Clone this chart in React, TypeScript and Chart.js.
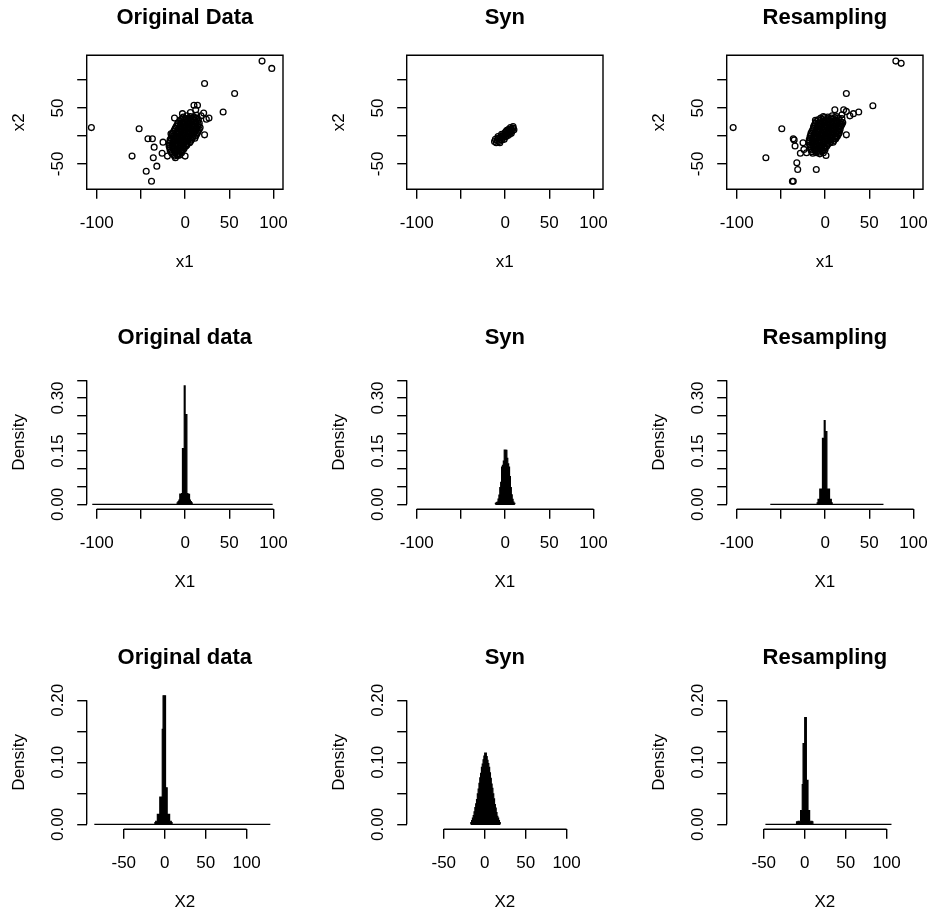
import React, { useEffect, useRef } from 'react';
import { Chart, registerables } from 'chart.js';

Chart.register(...registerables);

// ---------------- tick values and labels ----------------
const scatterXTicks = [-100, -50, 0, 50, 100];
const scatterXLabels = ['-100', '', '0', '50', '100'];
const scatterYTicks = [-50, 0, 50, 100];
const scatterYLabels = ['-50', '', '50', ''];

const histX1Ticks = [-100, -50, 0, 50, 100];
const histX1Labels = ['-100', '', '0', '50', '100'];
const histX1YTicks = [0, 0.05, 0.1, 0.15, 0.2, 0.25, 0.3, 0.35];
const histX1YLabels = ['0.00', '', '', '0.15', '', '', '0.30', ''];

const histX2Ticks = [-50, 0, 50, 100];
const histX2Labels = ['-50', '0', '50', '100'];
const histX2YTicks = [0, 0.05, 0.1, 0.15, 0.2];
const histX2YLabels = ['0.00', '', '0.10', '', '0.20'];

// axis limits (R "usr" ranges)
const scatterXLim = [-111.3, 110.7];
const scatterYLim = [-95.4, 144.4];
const histX1XLim = [-111.3, 110.7];
const histX1YLim = [-0.014, 0.364];
const histX2XLim = [-95.3, 144.5];
const histX2YLim = [-0.008, 0.208];

// ---------------- scatter data (x1, x2) ----------------
const originalPoints: [number, number][] = [
  // outlying points
  [87, 134], [98, 121], [22, 94], [56, 76], [43, 43], [-106, 15], [-52, 13], [-60, -36],
  [-42, -5], [-37, -5], [-35, -20], [-36, -39], [-32, -54], [-44, -63], [-38, -81],
  [-25, -11], [-26, -31], [-20, -36], [-11, -39], [-4, -27], [0, -36], [22, 2], [27, 32],
  [21, 41], [10, 55], [14, 55], [12, 47], [-12, 32], [18, 36], [24, 30], [6, 42], [-3, 40],
  // dense core
  [-2, 34], [2, 36], [6, 35], [10, 34], [13, 37],
  [-3, 32], [1, 31], [5, 32], [9, 31], [13, 32],
  [-5, 29], [-1, 28], [3, 30], [7, 29], [11, 28], [15, 30],
  [-6, 26], [-2, 25], [2, 26], [6, 27], [10, 25], [14, 26],
  [-8, 23], [-4, 22], [0, 24], [4, 23], [8, 22], [12, 24], [16, 23],
  [-9, 20], [-5, 19], [-1, 21], [3, 20], [7, 19], [11, 21], [15, 20],
  [-10, 17], [-6, 16], [-2, 18], [2, 17], [6, 16], [10, 18], [14, 17], [17, 15],
  [-11, 14], [-7, 13], [-3, 15], [1, 14], [5, 13], [9, 15], [13, 14], [16, 12],
  [-12, 11], [-8, 10], [-4, 12], [0, 11], [4, 10], [8, 12], [12, 11], [15, 9],
  [-13, 8], [-9, 7], [-5, 9], [-1, 8], [3, 7], [7, 9], [11, 8], [14, 6],
  [-16, 4], [-14, 5], [-10, 4], [-6, 6], [-2, 5], [2, 4], [6, 6], [10, 5], [13, 3],
  [-15, 2], [-12, 1], [-8, 3], [-4, 2], [0, 1], [4, 3], [8, 2], [12, 0],
  [-15, -1], [-11, -2], [-7, 0], [-3, -1], [1, -2], [5, 0], [9, -1], [11, -4],
  [-16, -4], [-12, -5], [-8, -3], [-4, -4], [0, -5], [4, -3], [8, -4],
  [-17, -7], [-13, -8], [-9, -6], [-5, -7], [-1, -8], [3, -6], [7, -7],
  [-17, -10], [-13, -11], [-9, -9], [-5, -10], [-1, -11], [3, -9], [6, -10],
  [-18, -13], [-14, -12], [-10, -14], [-6, -13], [-2, -12], [2, -14], [5, -12],
  [-18, -16], [-14, -17], [-10, -15], [-6, -16], [-2, -17], [2, -16],
  [-18, -19], [-14, -20], [-10, -18], [-6, -19], [-2, -20], [1, -18],
  [-17, -22], [-13, -21], [-9, -23], [-5, -22], [-1, -22],
  [-17, -25], [-13, -24], [-9, -26], [-5, -25], [-2, -24],
  [-16, -28], [-12, -27], [-8, -29], [-4, -28],
  [-15, -31], [-11, -30], [-7, -32], [-4, -30],
  [-13, -33], [-9, -33], [-6, -34],
  [-12, -36], [-8, -35],
];

const synPoints: [number, number][] = [
  [-12, -10], [-10, -12], [-11, -6], [-9, -8], [-8, -4], [-7, -10], [-6, -6], [-5, -2],
  [-4, -7], [-3, 0], [-3, -4], [-2, 3], [-1, -2], [0, 2], [0, 6], [1, -1], [2, 4], [3, 8],
  [3, 1], [4, 5], [5, 10], [5, 3], [6, 7], [7, 12], [7, 5], [8, 9], [9, 14], [9, 17],
  [10, 11], [6, 15], [4, 12], [-1, -6], [-6, -12], [2, 10], [-8, -1], [1, 8], [-4, 3],
];

const resamplingPoints: [number, number][] = [
  // outlying points
  [80, 134], [86, 130], [24, 76], [54, 54], [38, 43], [-104, 15], [-49, 13], [-67, -39],
  [-36, -5], [-35, -7], [-34, -18], [-32, -48], [-31, -60], [-37, -81], [-36, -81],
  [-10, -60], [1, -35], [-25, -12], [-28, -31], [-21, -30], [24, 2], [21, 47], [11, 47],
  [19, 38], [28, 36], [-11, 28], [32, 40], [24, 44], [-24, -24],
  // dense core
  [-2, 35], [3, 34], [8, 36], [13, 35],
  [-5, 32], [-1, 33], [3, 31], [7, 32], [11, 33], [15, 32],
  [-8, 29], [-4, 30], [0, 28], [4, 29], [8, 30], [12, 28], [16, 29], [19, 31],
  [-10, 26], [-6, 25], [-2, 27], [2, 26], [6, 25], [10, 27], [14, 26], [18, 25],
  [-11, 23], [-7, 22], [-3, 24], [1, 23], [5, 22], [9, 24], [13, 23], [17, 22], [20, 24],
  [-12, 20], [-8, 19], [-4, 21], [0, 20], [4, 19], [8, 21], [12, 20], [16, 19], [19, 21],
  [-13, 17], [-9, 16], [-5, 18], [-1, 17], [3, 16], [7, 18], [11, 17], [15, 16], [18, 18],
  [-13, 14], [-8, 13], [-4, 15], [0, 14], [4, 13], [8, 15], [12, 14], [16, 13],
  [-14, 11], [-10, 10], [-6, 12], [-2, 11], [2, 10], [6, 12], [10, 11], [14, 10], [17, 12],
  [-15, 8], [-11, 7], [-7, 9], [-3, 8], [1, 7], [5, 9], [9, 8], [13, 7], [16, 9],
  [-16, 5], [-12, 4], [-8, 6], [-4, 5], [0, 4], [4, 6], [8, 5], [12, 4], [16, 6],
  [-16, 2], [-12, 1], [-8, 3], [-4, 2], [0, 1], [4, 3], [8, 2], [12, 1], [15, 3],
  [-17, -1], [-13, -2], [-9, 0], [-5, -1], [-1, -2], [3, 0], [7, -1], [11, -2], [14, 0],
  [-17, -4], [-13, -5], [-9, -3], [-5, -4], [-1, -5], [3, -3], [7, -4], [11, -5], [13, -2],
  [-18, -7], [-14, -8], [-10, -6], [-6, -7], [-2, -8], [2, -6], [6, -7], [10, -8], [12, -5],
  [-18, -10], [-14, -11], [-10, -9], [-6, -10], [-2, -11], [2, -9], [6, -10], [9, -11],
  [-18, -13], [-14, -12], [-10, -14], [-6, -13], [-2, -12], [2, -14], [6, -12],
  [-17, -16], [-13, -17], [-9, -15], [-5, -16], [-1, -17], [3, -15],
  [-17, -19], [-13, -20], [-9, -18], [-5, -19], [-1, -20], [2, -18],
  [-16, -22], [-12, -21], [-8, -23], [-4, -22], [0, -21],
  [-16, -25], [-12, -24], [-8, -26], [-4, -25], [0, -24],
  [-15, -28], [-11, -27], [-7, -29], [-3, -27],
  [-14, -31], [-10, -30], [-6, -32], [-2, -30],
];

// ---------------- histogram data (bin width 1) ----------------
// span: range of all breaks (empty bins show as the zero line); firstBin: left edge of first listed bin
const origX1Span = [-105, 99];
const origX1FirstBin = -9;
const origX1Density = [0.004, 0.008, 0.012, 0.029, 0.029, 0.03, 0.157, 0.157, 0.334, 0.253, 0.253,
  0.03, 0.029, 0.028, 0.012, 0.008, 0.004];

const synX1Span = [-11, 11];
const synX1FirstBin = -11;
const synX1Density = [0.003, 0.005, 0.006, 0.015, 0.026, 0.047, 0.062, 0.105, 0.11, 0.122, 0.153,
  0.153, 0.152, 0.13, 0.114, 0.105, 0.078, 0.047, 0.027, 0.014, 0.006, 0.003];

const resX1Span = [-62, 66];
const resX1FirstBin = -9;
const resX1Density = [0.004, 0.014, 0.014, 0.043, 0.043, 0.043, 0.186, 0.186, 0.236, 0.205, 0.205,
  0.043, 0.043, 0.043, 0.014, 0.014, 0.004];

const origX2Span = [-86, 129];
const origX2FirstBin = -12;
const origX2Density = [0.003, 0.005, 0.005, 0.016, 0.016, 0.016, 0.044, 0.044, 0.044, 0.153, 0.208,
  0.208, 0.208, 0.059, 0.059, 0.016, 0.016, 0.016, 0.005, 0.005, 0.003];

const synX2Span = [-17, 19];
const synX2FirstBin = -17;
const synX2Density = [0.003, 0.006, 0.01, 0.014, 0.02, 0.027, 0.033, 0.04, 0.049, 0.057, 0.066,
  0.075, 0.082, 0.092, 0.097, 0.104, 0.11, 0.115, 0.115, 0.109, 0.103, 0.098, 0.092, 0.083,
  0.074, 0.065, 0.058, 0.049, 0.041, 0.032, 0.026, 0.019, 0.013, 0.01, 0.006, 0.003];

const resX2Span = [-48, 106];
const resX2FirstBin = -10;
const resX2Density = [0.004, 0.004, 0.005, 0.005, 0.005, 0.022, 0.022, 0.064, 0.13, 0.13, 0.172,
  0.172, 0.071, 0.071, 0.022, 0.022, 0.005, 0.005, 0.005, 0.004];

// ---------------- styling / layout ----------------
const FONT = '"Liberation Sans", Arial, Helvetica, sans-serif';
const CELL = 320;
const TICK_LEN = 9.5;
const LINE_W = 1.4;
const AXIS_FONT_SIZE = 17;
const PLOT_LEFT = 86.7;
const PLOT_RIGHT = 283;
const PLOT_TOP = 55.3;
const PLOT_BOTTOM = 189.3;
const Y_LABEL_CENTER = 58.5;
const X_LABEL_CENTER = 223;
const X_TITLE_CENTER = 262.5;

const rFrame = {
  id: 'rFrame',
  afterDraw(chart: any, _args: any, opts: any) {
    const { ctx, chartArea: a, scales } = chart;
    ctx.save();
    ctx.strokeStyle = '#000';
    ctx.lineWidth = LINE_W;
    ctx.beginPath();
    if (opts.box) {
      ctx.rect(a.left, a.top, a.right - a.left, a.bottom - a.top);
    } else {
      const xs = scales.x;
      const ys = scales.y;
      const xt = xs.ticks;
      const yt = ys.ticks;
      ctx.moveTo(xs.getPixelForValue(xt[0].value), a.bottom);
      ctx.lineTo(xs.getPixelForValue(xt[xt.length - 1].value), a.bottom);
      ctx.moveTo(a.left, ys.getPixelForValue(yt[0].value));
      ctx.lineTo(a.left, ys.getPixelForValue(yt[yt.length - 1].value));
    }
    ctx.stroke();
    ctx.restore();
  },
};

function widest(labels: string[], font: string) {
  const c = document.createElement('canvas').getContext('2d')!;
  c.font = font;
  let w = 0;
  labels.forEach((l) => { if (l) w = Math.max(w, c.measureText(l).width); });
  return w;
}

function scatterSet(points: [number, number][]) {
  return {
    data: points.map(([x, y]) => ({ x, y })),
    pointStyle: 'circle',
    pointRadius: 2.9,
    pointBorderWidth: 1.3,
    pointBorderColor: '#000',
    pointBackgroundColor: 'rgba(0,0,0,0)',
    showLine: false,
  };
}

function histSets(span: number[], firstBin: number, dens: number[]) {
  const pts = [{ x: firstBin, y: 0 }];
  dens.forEach((d, i) => pts.push({ x: firstBin + i, y: d }));
  pts.push({ x: firstBin + dens.length, y: 0 });
  return [
    {
      data: [{ x: span[0], y: 0 }, { x: span[1], y: 0 }],
      borderColor: '#000',
      borderWidth: LINE_W,
      pointRadius: 0,
      fill: false,
    },
    {
      data: pts,
      stepped: 'before',
      borderColor: '#000',
      borderWidth: 1.2,
      backgroundColor: '#000',
      pointRadius: 0,
      fill: 'origin',
    },
  ];
}

type PanelDef = {
  title: string; xTitle: string; yTitle: string;
  xTicks: number[]; xLabels: string[]; yTicks: number[]; yLabels: string[];
  xLim: number[]; yLim: number[]; box: boolean; datasets: any[];
};

const panels: PanelDef[] = [
  { title: 'Original Data', xTitle: 'x1', yTitle: 'x2', xTicks: scatterXTicks, xLabels: scatterXLabels,
    yTicks: scatterYTicks, yLabels: scatterYLabels, xLim: scatterXLim, yLim: scatterYLim, box: true,
    datasets: [scatterSet(originalPoints)] },
  { title: 'Syn', xTitle: 'x1', yTitle: 'x2', xTicks: scatterXTicks, xLabels: scatterXLabels,
    yTicks: scatterYTicks, yLabels: scatterYLabels, xLim: scatterXLim, yLim: scatterYLim, box: true,
    datasets: [scatterSet(synPoints)] },
  { title: 'Resampling', xTitle: 'x1', yTitle: 'x2', xTicks: scatterXTicks, xLabels: scatterXLabels,
    yTicks: scatterYTicks, yLabels: scatterYLabels, xLim: scatterXLim, yLim: scatterYLim, box: true,
    datasets: [scatterSet(resamplingPoints)] },
  { title: 'Original data', xTitle: 'X1', yTitle: 'Density', xTicks: histX1Ticks, xLabels: histX1Labels,
    yTicks: histX1YTicks, yLabels: histX1YLabels, xLim: histX1XLim, yLim: histX1YLim, box: false,
    datasets: histSets(origX1Span, origX1FirstBin, origX1Density) },
  { title: 'Syn', xTitle: 'X1', yTitle: 'Density', xTicks: histX1Ticks, xLabels: histX1Labels,
    yTicks: histX1YTicks, yLabels: histX1YLabels, xLim: histX1XLim, yLim: histX1YLim, box: false,
    datasets: histSets(synX1Span, synX1FirstBin, synX1Density) },
  { title: 'Resampling', xTitle: 'X1', yTitle: 'Density', xTicks: histX1Ticks, xLabels: histX1Labels,
    yTicks: histX1YTicks, yLabels: histX1YLabels, xLim: histX1XLim, yLim: histX1YLim, box: false,
    datasets: histSets(resX1Span, resX1FirstBin, resX1Density) },
  { title: 'Original data', xTitle: 'X2', yTitle: 'Density', xTicks: histX2Ticks, xLabels: histX2Labels,
    yTicks: histX2YTicks, yLabels: histX2YLabels, xLim: histX2XLim, yLim: histX2YLim, box: false,
    datasets: histSets(origX2Span, origX2FirstBin, origX2Density) },
  { title: 'Syn', xTitle: 'X2', yTitle: 'Density', xTicks: histX2Ticks, xLabels: histX2Labels,
    yTicks: histX2YTicks, yLabels: histX2YLabels, xLim: histX2XLim, yLim: histX2YLim, box: false,
    datasets: histSets(synX2Span, synX2FirstBin, synX2Density) },
  { title: 'Resampling', xTitle: 'X2', yTitle: 'Density', xTicks: histX2Ticks, xLabels: histX2Labels,
    yTicks: histX2YTicks, yLabels: histX2YLabels, xLim: histX2XLim, yLim: histX2YLim, box: false,
    datasets: histSets(resX2Span, resX2FirstBin, resX2Density) },
];

function buildConfig(d: PanelDef): any {
  const axisFont = { family: FONT, size: AXIS_FONT_SIZE, lineHeight: 1.2 };
  const lh = AXIS_FONT_SIZE * 1.2;
  const yW = widest(d.yLabels, `${AXIS_FONT_SIZE}px ${FONT}`);
  const yPad = PLOT_LEFT - Y_LABEL_CENTER - TICK_LEN - yW / 2;
  const grid = { display: true, drawOnChartArea: false, drawTicks: true, tickLength: TICK_LEN, color: '#000', lineWidth: LINE_W };
  return {
    type: d.box ? 'scatter' : 'line',
    data: { datasets: d.datasets },
    plugins: [rFrame],
    options: {
      responsive: false,
      animation: false,
      devicePixelRatio: 1,
      events: [],
      layout: { padding: { left: 0, right: CELL - PLOT_RIGHT, top: 0, bottom: 0 } },
      plugins: {
        legend: { display: false },
        tooltip: { enabled: false },
        title: {
          display: true, text: d.title, fullSize: false, color: '#000',
          font: { family: FONT, size: 22, weight: 'bold', lineHeight: 1.2 },
          padding: { top: 4.3, bottom: PLOT_TOP - 4.3 - 22 * 1.2 },
        },
        rFrame: { box: d.box },
      },
      scales: {
        x: {
          type: 'linear', position: 'bottom', bounds: 'data', min: d.xLim[0], max: d.xLim[1],
          afterBuildTicks: (s: any) => { s.ticks = d.xTicks.map((v) => ({ value: v })); },
          afterFit: (s: any) => { s.height = CELL - PLOT_BOTTOM; },
          grid, border: { display: false },
          ticks: {
            autoSkip: false, maxRotation: 0, minRotation: 0, padding: X_LABEL_CENTER - PLOT_BOTTOM - TICK_LEN - lh / 2,
            color: '#000', font: axisFont, callback: (_v: any, i: number) => d.xLabels[i],
          },
          title: { display: true, text: d.xTitle, color: '#000', font: axisFont, padding: { top: 0, bottom: CELL - X_TITLE_CENTER - lh / 2 } },
        },
        y: {
          type: 'linear', position: 'left', bounds: 'data', min: d.yLim[0], max: d.yLim[1],
          afterBuildTicks: (s: any) => { s.ticks = d.yTicks.map((v) => ({ value: v })); },
          afterFit: (s: any) => { s.width = PLOT_LEFT; },
          grid, border: { display: false },
          ticks: {
            autoSkip: false, minRotation: 90, maxRotation: 90, crossAlign: 'center', padding: yPad,
            color: '#000', font: axisFont, callback: (_v: any, i: number) => d.yLabels[i],
          },
          title: { display: true, text: d.yTitle, color: '#000', font: axisFont, padding: { top: 19.5 - lh / 2, bottom: 0 } },
        },
      },
    },
  };
}

function Panel({ def, left, top }: { def: PanelDef; left: number; top: number }) {
  const ref = useRef<HTMLCanvasElement>(null);
  useEffect(() => {
    const chart = new Chart(ref.current as HTMLCanvasElement, buildConfig(def));
    return () => chart.destroy();
  }, [def]);
  return (
    <canvas ref={ref} width={CELL} height={CELL}
      style={{ position: 'absolute', left, top, width: CELL, height: CELL, display: 'block' }} />
  );
}

export default function App() {
  return (
    <div style={{ position: 'absolute', left: 0, top: 0, width: 929, height: 916, overflow: 'hidden', background: '#fff' }}>
      {panels.map((p, i) => (
        <Panel key={i} def={p} left={(i % 3) * CELL} top={Math.floor(i / 3) * CELL} />
      ))}
    </div>
  );
}
